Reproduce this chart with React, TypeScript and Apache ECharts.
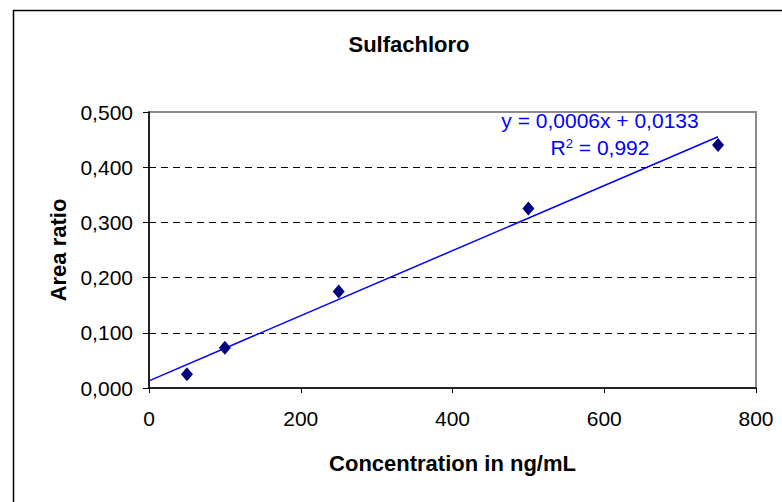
import React, { useEffect, useRef } from "react";
import * as echarts from "echarts";

const chartTitle = "Sulfachloro";
const xAxisTitle = "Concentration in ng/mL";
const yAxisTitle = "Area ratio";
const concentrations = [50, 100, 250, 500, 750];
const areaRatios = [0.025, 0.073, 0.175, 0.325, 0.44];
const equationText = "y = 0,0006x + 0,0133";
const rSquaredText = "0,992";
const trendRange = [0, 750];

const FONT = "'Liberation Sans', Arial, Helvetica, sans-serif";

function leastSquares(xs: number[], ys: number[]) {
  const n = xs.length;
  const mx = xs.reduce((a, b) => a + b, 0) / n;
  const my = ys.reduce((a, b) => a + b, 0) / n;
  let sxy = 0;
  let sxx = 0;
  for (let i = 0; i < n; i++) {
    sxy += (xs[i] - mx) * (ys[i] - my);
    sxx += (xs[i] - mx) * (xs[i] - mx);
  }
  const slope = sxy / sxx;
  return { slope, intercept: my - slope * mx };
}

export default function App() {
  const ref = useRef<HTMLDivElement>(null);
  useEffect(() => {
    if (!ref.current) return;
    const chart = echarts.init(ref.current, undefined, { renderer: "svg" });
    const fit = leastSquares(concentrations, areaRatios);
    const trend = trendRange.map((x) => [x, fit.slope * x + fit.intercept]);
    chart.setOption({
      animation: false,
      backgroundColor: "#ffffff",
      title: {
        text: chartTitle,
        left: 404,
        top: 28,
        textAlign: "center",
        textStyle: { fontFamily: FONT, fontSize: 22, fontWeight: "bold", color: "#000" },
      },
      grid: {
        left: 149,
        right: 26,
        top: 112,
        bottom: 114,
        show: true,
        borderColor: "#8c8c8c",
        borderWidth: 2,
        backgroundColor: "transparent",
      },
      xAxis: {
        type: "value",
        min: 0,
        max: 800,
        interval: 200,
        name: xAxisTitle,
        nameLocation: "middle",
        nameGap: 64,
        nameTextStyle: { fontFamily: FONT, fontSize: 22, fontWeight: "bold", color: "#000" },
        axisLine: { show: true, onZero: false, lineStyle: { color: "#000", width: 1.5 } },
        axisTick: { show: true, inside: false, length: 5, lineStyle: { color: "#000", width: 1 } },
        axisLabel: { fontFamily: FONT, fontSize: 21, color: "#000", margin: 20 },
        splitLine: { show: false },
      },
      yAxis: {
        type: "value",
        min: 0,
        max: 0.5,
        interval: 0.1,
        name: yAxisTitle,
        nameLocation: "middle",
        nameRotate: 90,
        nameGap: 80,
        nameTextStyle: { fontFamily: FONT, fontSize: 22, fontWeight: "bold", color: "#000" },
        axisLine: { show: true, onZero: false, lineStyle: { color: "#000", width: 1.5 } },
        axisTick: { show: true, inside: false, length: 6, lineStyle: { color: "#000", width: 1 } },
        axisLabel: {
          fontFamily: FONT,
          fontSize: 21,
          color: "#000",
          margin: 16,
          formatter: (v: number) => v.toFixed(3).replace(".", ","),
        },
        splitLine: {
          show: true,
          showMinLine: false,
          showMaxLine: false,
          lineStyle: { color: "#000", width: 1, type: [7, 5] },
        },
      },
      series: [
        {
          name: "Linear fit",
          type: "line",
          data: trend,
          showSymbol: false,
          symbol: "none",
          lineStyle: { color: "#0000ff", width: 1.5 },
          z: 2,
        },
        {
          name: "Area ratio",
          type: "scatter",
          data: concentrations.map((x, i) => [x, areaRatios[i]]),
          symbol: "diamond",
          symbolSize: [12, 14],
          itemStyle: { color: "#000080", opacity: 1 },
          z: 3,
        },
      ],
      graphic: [
        {
          type: "rect",
          shape: { x: 13.5, y: 10.5, width: 800, height: 600 },
          style: { fill: "none", stroke: "#000", lineWidth: 1.5 },
          silent: true,
          z: -1,
        },
        {
          type: "text",
          x: 600,
          y: 120,
          style: {
            text: equationText,
            fontFamily: FONT,
            fontSize: 21,
            fill: "#0000ff",
            textAlign: "center",
            textVerticalAlign: "middle",
          },
          z: 10,
        },
        {
          type: "text",
          x: 600,
          y: 147,
          style: {
            text: "R{sup|2} = " + rSquaredText,
            fontFamily: FONT,
            fontSize: 21,
            fill: "#0000ff",
            textAlign: "center",
            textVerticalAlign: "middle",
            rich: {
              sup: { fontFamily: FONT, fontSize: 13, fill: "#0000ff", verticalAlign: "top", padding: [0, 0, 8, 0] },
            },
          },
          z: 10,
        },
      ],
    });
    return () => chart.dispose();
  }, []);
  return (
    <div
      ref={ref}
      style={{ position: "fixed", left: 0, top: 0, width: 782, height: 502 }}
    />
  );
}
